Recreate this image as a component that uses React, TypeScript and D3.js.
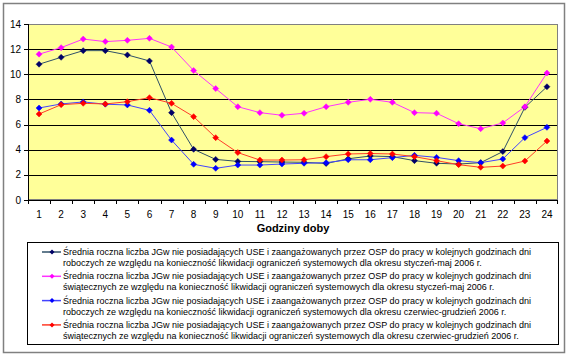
import React from "react";
import * as d3 from "d3";

const hours = d3.range(1, 25).map(String);
const yTicks = [0, 2, 4, 6, 8, 10, 12, 14];

const workJanMay = [10.8, 11.35, 11.88, 11.88, 11.54, 11.06, 6.95, 4.03, 3.23, 3.07, 3.05, 3.02, 3.0, 2.9, 3.28, 3.5, 3.45, 3.13, 2.92, 2.86, 2.97, 3.85, 7.37, 9.01];
const holJanMay = [11.6, 12.12, 12.8, 12.6, 12.7, 12.86, 12.17, 10.3, 8.86, 7.42, 6.95, 6.74, 6.9, 7.42, 7.77, 8.01, 7.77, 6.95, 6.9, 6.07, 5.67, 6.13, 7.42, 10.1];
const workJunDec = [7.32, 7.64, 7.8, 7.62, 7.56, 7.13, 4.77, 2.84, 2.52, 2.78, 2.78, 2.86, 2.92, 2.97, 3.2, 3.2, 3.37, 3.55, 3.39, 3.13, 2.97, 3.26, 4.96, 5.78];
const holJunDec = [6.84, 7.58, 7.69, 7.64, 7.82, 8.14, 7.69, 6.63, 4.96, 3.77, 3.18, 3.18, 3.2, 3.45, 3.66, 3.7, 3.66, 3.45, 3.13, 2.81, 2.6, 2.7, 3.1, 4.69];

const legendLine1 = "Średnia roczna liczba JGw nie posiadających USE i zaangażowanych przez OSP do pracy w kolejnych godzinach dni";
const legendLine2 = [
  "roboczych ze względu na konieczność likwidacji ograniczeń systemowych dla okresu styczeń-maj 2006 r.",
  "świątecznych ze względu na konieczność likwidacji ograniczeń systemowych dla okresu styczeń-maj 2006 r.",
  "roboczych ze względu na konieczność likwidacji ograniczeń systemowych dla okresu czerwiec-grudzień 2006 r.",
  "świątecznych ze względu na konieczność likwidacji ograniczeń systemowych dla okresu czerwiec-grudzień 2006 r.",
];
const xTitle = "Godziny doby";

const series = [
  { values: workJanMay, line: "#2f5068", marker: "#000066" },
  { values: holJanMay, line: "#ff33ff", marker: "#ff00ff" },
  { values: workJunDec, line: "#4444ff", marker: "#0000ff" },
  { values: holJunDec, line: "#ff3c28", marker: "#ff0000" },
];

const W = 570, H = 357;
const plot = { left: 28, top: 24, right: 558, bottom: 200 };
const font = "Liberation Sans, Arial, sans-serif";

function diamond(cx: number, cy: number, r: number) {
  return `M${cx},${cy - r}L${cx + r},${cy}L${cx},${cy + r}L${cx - r},${cy}Z`;
}

export default function App() {
  const x = d3.scaleBand().domain(hours).range([plot.left, plot.right]);
  const y = d3.scaleLinear().domain([0, 14]).range([plot.bottom, plot.top]);
  const line = d3.line<number>()
    .x((_, i) => (x(hours[i]) as number) + x.bandwidth() / 2)
    .y((d) => y(d));

  const legTop = 242, legBottom = 344;
  const entryStep = 24.3;

  return (
    <svg width={W} height={H} style={{ position: "absolute", left: 0, top: 0, fontFamily: font }}>
      <rect x={0} y={0} width={W} height={H} fill="#ffffff" />
      <rect x={3.5} y={3.5} width={561} height={349} fill="#ffffff" stroke="#808080" strokeWidth={1.5} />
      <rect x={plot.left} y={plot.top} width={plot.right - plot.left} height={plot.bottom - plot.top} fill="#ffff99" />
      {yTicks.slice(1, -1).map((t) => (
        <line key={t} x1={plot.left} x2={plot.right} y1={Math.round(y(t)) + 0.5} y2={Math.round(y(t)) + 0.5} stroke="#000000" strokeWidth={1} />
      ))}
      <rect x={plot.left + 0.5} y={plot.top + 0.5} width={plot.right - plot.left - 1} height={plot.bottom - plot.top - 1} fill="none" stroke="#808080" strokeWidth={1} />
      {/* axes */}
      <line x1={plot.left + 0.5} x2={plot.left + 0.5} y1={plot.top} y2={plot.bottom} stroke="#000" />
      <line x1={plot.left} x2={plot.right} y1={plot.bottom + 0.5} y2={plot.bottom + 0.5} stroke="#000" />
      {yTicks.map((t) => (
        <g key={t}>
          <line x1={plot.left - 4} x2={plot.left} y1={Math.round(y(t)) + 0.5} y2={Math.round(y(t)) + 0.5} stroke="#000" />
          <text x={plot.left - 7} y={y(t)} dy="0.35em" textAnchor="end" fontSize={10} fill="#000">{t}</text>
        </g>
      ))}
      {hours.map((h) => (
        <line key={"t" + h} x1={Math.round(x(h) as number) + 0.5} x2={Math.round(x(h) as number) + 0.5} y1={plot.bottom} y2={plot.bottom + 4} stroke="#000" />
      ))}
      <line x1={plot.right - 0.5} x2={plot.right - 0.5} y1={plot.bottom} y2={plot.bottom + 4} stroke="#000" />
      {hours.map((h) => (
        <text key={"l" + h} x={(x(h) as number) + x.bandwidth() / 2} y={214} dy="0.35em" textAnchor="middle" fontSize={10} fill="#000">{h}</text>
      ))}
      <text x={293} y={228} dy="0.35em" textAnchor="middle" fontSize={11} fontWeight="bold" fill="#000">{xTitle}</text>
      {/* series */}
      {series.map((s, k) => (
        <g key={k}>
          <path d={line(s.values) as string} fill="none" stroke={s.line} strokeWidth={1} />
          {s.values.map((v, i) => (
            <path key={i} d={diamond((x(hours[i]) as number) + x.bandwidth() / 2, y(v), 3)} fill={s.marker} stroke={s.marker} strokeWidth={0.5} />
          ))}
        </g>
      ))}
      {/* legend */}
      <rect x={27.5} y={legTop + 0.5} width={531} height={legBottom - legTop} fill="#ffffff" stroke="#000000" strokeWidth={1} />
      {series.map((s, k) => {
        const cy = legTop + 10 + k * entryStep;
        return (
          <g key={"leg" + k}>
            <line x1={42} x2={61} y1={cy} y2={cy} stroke={s.line} strokeWidth={1.5} />
            <path d={diamond(52, cy, 2.5)} fill={s.marker} />
            <text x={63} y={cy} dy="0.35em" fontSize={9} fill="#000">{legendLine1}</text>
            <text x={63} y={cy + 11} dy="0.35em" fontSize={9} fill="#000">{legendLine2[k]}</text>
          </g>
        );
      })}
    </svg>
  );
}
